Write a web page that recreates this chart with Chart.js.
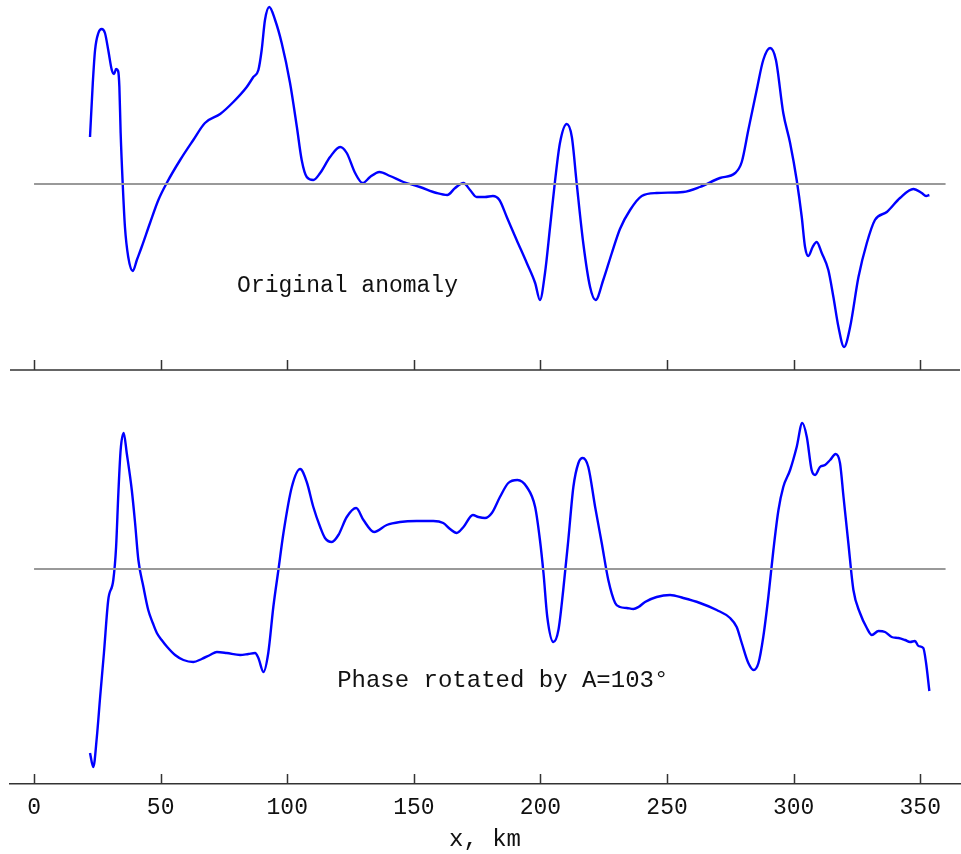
<!DOCTYPE html>
<html>
<head>
<meta charset="utf-8">
<script src="https://cdn.jsdelivr.net/npm/chart.js@4"></script>
<style>
    body { margin: 0; background: #fff; }
    #wrap { position: relative; width: 961px; height: 854px; }
    canvas { position: absolute; left: 0; }
    #topChart { top: 0; }
    #bottomChart { top: 385px; }
</style>
</head>
<body>
<div id="wrap">
    <canvas id="topChart" width="961" height="380"></canvas>
    <canvas id="bottomChart" width="961" height="469"></canvas>
</div>
<script>

// profile positions, km (original anomaly)
var topX = [22.1, 23.2, 24.1, 25.4, 26.7, 28.0, 29.3, 30.7, 31.6, 32.4,
    33.2, 33.7, 34.2, 35.0, 35.9, 37.2, 39.0, 40.6, 42.5, 45.8,
    49.1, 52.4, 57.7, 62.9, 67.5, 73.5, 78.7, 84.0, 86.6, 88.6,
    89.9, 91.2, 92.9, 95.2, 97.8, 101.1, 103.8, 105.7, 107.7, 110.3,
    113.0, 116.9, 120.9, 123.5, 126.8, 129.8, 132.7, 136.4, 140.6, 145.9,
    152.4, 159.0, 163.2, 166.3, 169.6, 172.2, 174.8, 178.1, 181.2, 183.8,
    186.7, 190.6, 194.6, 197.9, 199.8, 201.8, 203.8, 205.8, 207.7, 210.4,
    212.4, 214.3, 216.9, 219.6, 221.8, 224.8, 228.2, 231.4, 235.4, 240.0,
    245.9, 256.4, 263.0, 270.9, 276.9, 279.5, 282.1, 285.4, 288.0, 290.7,
    293.0, 295.9, 298.6, 301.2, 303.2, 304.5, 305.8, 307.5, 309.1, 311.1,
    313.7, 315.7, 317.7, 319.9, 322.3, 325.6, 328.9, 332.1, 336.8, 342.0,
    347.3, 350.6, 352.3, 353.6];

// anomaly values (arbitrary units)
var topY = [47, 101, 134, 151, 155, 151, 134, 114, 110, 115,
    113, 97, 51, 1, -43, -73, -87, -76, -63, -39,
    -16, 1, 24, 44, 61, 70, 82, 97, 107, 114,
    134, 164, 177, 164, 141, 101, 57, 24, 7, 4,
    11, 27, 37, 31, 11, 1, 7, 12, 8, 2,
    -3, -9, -11, -4, 1, -6, -13, -13, -12, -16,
    -33, -56, -79, -99, -116, -89, -43, 4, 41, 60,
    47, 1, -59, -103, -116, -96, -69, -45, -26, -12,
    -9, -8, -3, 6, 11, 22, 54, 94, 124, 136,
    124, 71, 41, 4, -33, -63, -72, -63, -58, -69,
    -86, -113, -143, -163, -143, -93, -59, -36, -28, -14,
    -5, -9, -12, -11];

// profile positions, km (phase rotated)
var botX = [22.1, 23.4, 24.8, 26.1, 27.6, 29.3, 31.3, 32.4, 33.3, 34.2,
    35.4, 36.6, 38.6, 39.9, 41.2, 43.2, 45.1, 46.9, 48.5, 50.4,
    52.6, 55.7, 59.0, 62.9, 66.2, 69.5, 72.2, 76.1, 81.4, 84.6,
    87.3, 88.6, 90.6, 92.5, 94.5, 96.5, 98.5, 101.8, 105.1, 107.7,
    110.3, 113.0, 114.9, 117.6, 120.2, 123.5, 127.2, 130.1, 134.3, 139.3,
    144.5, 151.1, 157.7, 161.6, 164.3, 166.9, 169.6, 173.3, 175.5, 178.1,
    180.8, 184.0, 187.3, 190.9, 194.6, 197.9, 199.8, 201.2, 202.7, 205.1,
    207.1, 209.0, 211.0, 213.0, 215.0, 216.7, 218.9, 221.6, 224.2, 226.8,
    229.5, 231.4, 234.1, 236.7, 238.7, 241.3, 245.9, 251.2, 256.4, 263.0,
    269.6, 274.9, 277.5, 279.5, 282.1, 284.2, 286.1, 288.0, 290.0, 292.0,
    294.0, 295.9, 298.6, 301.2, 303.4, 305.2, 307.1, 308.5, 310.4, 312.4,
    314.4, 316.6, 318.3, 319.7, 321.6, 323.6, 326.2, 328.9, 330.9, 333.5,
    336.1, 338.7, 341.4, 344.0, 346.0, 347.9, 349.3, 351.2, 352.3, 353.6];

var botY = [-184, -198, -168, -128, -84, -31, -11, 22, 76, 119,
    136, 116, 79, 46, 9, -18, -41, -54, -64, -71,
    -78, -86, -91, -93, -90, -86, -83, -84, -86, -85,
    -84, -89, -103, -84, -38, -1, 36, 82, 100, 87,
    62, 42, 31, 27, 34, 52, 61, 49, 37, 44,
    47, 48, 48, 46, 40, 36, 42, 54, 52, 51,
    56, 72, 86, 89, 82, 62, 29, -4, -48, -73,
    -61, -21, 29, 82, 106, 111, 102, 62, 26, -11,
    -34, -38, -39, -40, -38, -33, -28, -26, -29, -34,
    -41, -49, -58, -74, -94, -101, -94, -68, -28, 19,
    59, 82, 99, 122, 146, 132, 99, 94, 102, 104,
    109, 115, 106, 72, 26, -21, -44, -59, -66, -62,
    -63, -68, -69, -71, -73, -72, -77, -79, -94, -122];

// zero level drawn from 0 to 360 km
var zeroX = [0, 360];

// x tick labels
var xTicks = [0, 50, 100, 150, 200, 250, 300, 350];

var monoFont = "'Liberation Mono', 'Courier New', monospace";

function toPoints(xs, ys) {
    return xs.map(function (v, i) { return { x: v, y: ys[i] }; });
}

// ticks pointing up into the plot + panel label
var axisTicks = {
    id: 'axisTicks',
    afterDraw: function (chart, args, opts) {
        var ctx = chart.ctx;
        var area = chart.chartArea;
        var x = chart.scales.x;
        var y = chart.scales.y;
        ctx.save();
        ctx.strokeStyle = '#333';
        ctx.lineWidth = 1.5;
        ctx.beginPath();
        if (opts.axisLine) {
            ctx.moveTo(area.left, area.bottom);
            ctx.lineTo(area.right, area.bottom);
        }
        xTicks.forEach(function (v) {
            var px = Math.round(x.getPixelForValue(v)) + 0.5;
            ctx.moveTo(px, area.bottom);
            ctx.lineTo(px, area.bottom - 10);
        });
        ctx.stroke();

        if (opts.label) {
            ctx.fillStyle = '#111';
            ctx.font = opts.label.size + 'px ' + monoFont;
            ctx.textAlign = 'left';
            ctx.textBaseline = 'alphabetic';
            ctx.fillText(opts.label.text, x.getPixelForValue(opts.label.x), y.getPixelForValue(opts.label.y));
        }
        ctx.restore();
    }
};

function makeChart(id, xs, ys, yMin, yMax, showAxis, label) {
    var ctx = document.getElementById(id).getContext('2d');
    return new Chart(ctx, {
        type: 'line',
        data: {
            datasets: [{
                data: toPoints(zeroX, [0, 0]),
                borderColor: '#999',
                borderWidth: 2,
                pointRadius: 0
            }, {
                data: toPoints(xs, ys),
                borderColor: '#0000ff',
                borderWidth: 2.4,
                pointRadius: 0,
                cubicInterpolationMode: 'monotone'
            }]
        },
        options: {
            responsive: false,
            animation: false,
            devicePixelRatio: 1,
            layout: { padding: { left: 10, right: 1, top: 0, bottom: showAxis ? 0 : 10 } },
            plugins: {
                legend: { display: false },
                tooltip: { enabled: false },
                axisTicks: { axisLine: !showAxis, label: label }
            },
            scales: {
                x: {
                    type: 'linear',
                    min: -9.5,
                    max: 365.7,
                    display: showAxis,
                    afterBuildTicks: function (scale) {
                        scale.ticks = xTicks.map(function (v) { return { value: v }; });
                    },
                    afterFit: function (scale) {
                        if (showAxis) scale.height = 70;
                    },
                    grid: { drawOnChartArea: false, drawTicks: false },
                    border: { display: true, color: '#333', width: 1.5 },
                    ticks: {
                        padding: 10,
                        color: '#111',
                        maxRotation: 0,
                        font: { family: monoFont, size: 23 }
                    },
                    title: {
                        display: true,
                        text: 'x, km',
                        color: '#111',
                        padding: 0,
                        font: { family: monoFont, size: 24 }
                    }
                },
                y: {
                    display: false,
                    min: yMin,
                    max: yMax
                }
            }
        },
        plugins: [axisTicks]
    });
}

makeChart('topChart', topX, topY, -186, 184, false,
    { text: 'Original anomaly', x: 80.2, y: -108, size: 23 });
makeChart('bottomChart', botX, botY, -215, 184, true,
    { text: 'Phase rotated by A=103°', x: 119.7, y: -118, size: 24 });

</script>
</body>
</html>
